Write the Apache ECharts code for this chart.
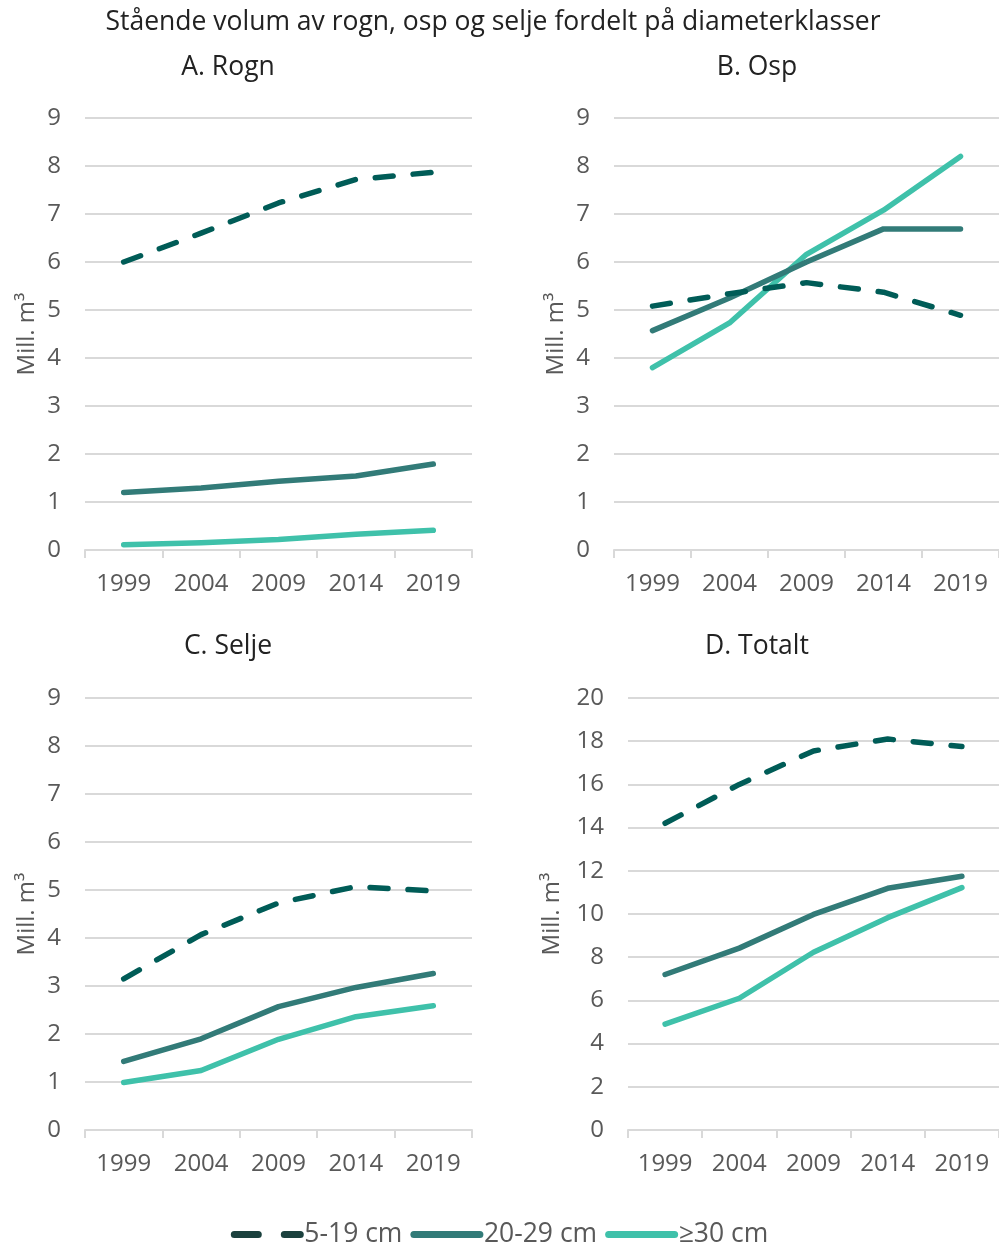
<!DOCTYPE html>
<html>
<head>
<meta charset="utf-8">
<script src="https://cdn.jsdelivr.net/npm/echarts@6/dist/echarts.min.js"></script>
<style>
  html, body { margin: 0; padding: 0; background: #fff; }
  #chart { width: 999px; height: 1250px; }
</style>
</head>
<body>
<div id="chart"></div>
<script>
const years = ['1999', '2004', '2009', '2014', '2019'];
const seriesNames = ['5-19 cm', '20-29 cm', '≥30 cm'];

// Rogn
const rogn519 = [6.0, 6.6, 7.23, 7.72, 7.87];
const rogn2029 = [1.2, 1.29, 1.43, 1.54, 1.79];
const rogn30 = [0.11, 0.15, 0.22, 0.33, 0.41];
// Osp
const osp519 = [5.08, 5.34, 5.57, 5.37, 4.89];
const osp2029 = [4.57, 5.25, 6.0, 6.69, 6.69];
const osp30 = [3.8, 4.73, 6.16, 7.08, 8.2];
// Selje
const selje519 = [3.15, 4.07, 4.73, 5.07, 4.98];
const selje2029 = [1.43, 1.9, 2.57, 2.97, 3.26];
const selje30 = [0.99, 1.24, 1.89, 2.36, 2.59];
// Totalt
const tot519 = [14.2, 16.0, 17.55, 18.1, 17.75];
const tot2029 = [7.2, 8.42, 9.98, 11.19, 11.75];
const tot30 = [4.9, 6.1, 8.23, 9.83, 11.22];

const panels = [
  { title: 'A. Rogn', data: [rogn519, rogn2029, rogn30], max: 9, interval: 1 },
  { title: 'B. Osp', data: [osp519, osp2029, osp30], max: 9, interval: 1 },
  { title: 'C. Selje', data: [selje519, selje2029, selje30], max: 9, interval: 1 },
  { title: 'D. Totalt', data: [tot519, tot2029, tot30], max: 20, interval: 2 }
];

const colors = ['#005c57', '#327b78', '#3fc1aa'];
const font = '"Open Sans", "Noto Sans", sans-serif';
const grey = '#595959';
const lineGrey = '#d9d9d9';

const grids = [
  { left: 85, top: 118, width: 387, height: 432 },
  { left: 614, top: 118, width: 387, height: 432 },
  { left: 85, top: 698, width: 387, height: 432 },
  { left: 628, top: 698, width: 373, height: 432 }
];
const titleX = [223, 752, 223, 752];
const titleY = [49, 49, 628, 628];
const nameGaps = [46, 46, 46, 64];

const myChart = echarts.init(document.getElementById('chart'));

const options = {
  backgroundColor: '#fff',
  textStyle: { fontFamily: font },
  title: [
    {
      text: 'Stående volum av rogn, osp og selje fordelt på diameterklasser',
      left: 488, top: 4, textAlign: 'center',
      textStyle: { fontFamily: font, fontSize: 26.5, fontWeight: 'normal', color: '#222' }
    }
  ].concat(panels.map((p, i) => ({
    text: p.title,
    left: titleX[i], top: titleY[i], textAlign: 'center',
    textStyle: { fontFamily: font, fontSize: 26.5, fontWeight: 'normal', color: '#222' }
  }))),
  legend: {
    bottom: -3,
    left: 'center',
    data: seriesNames.map((n, k) => k === 0
      ? { name: n, lineStyle: { type: [24, 26], color: '#1b413e' } }
      : { name: n }),
    itemWidth: 66,
    itemHeight: 14,
    itemGap: 8,
    itemStyle: { opacity: 0 },
    lineStyle: { width: 7, cap: 'round' },
    textStyle: { fontFamily: font, fontSize: 26.5, color: grey, padding: [0, 0, 0, -1] }
  },
  grid: grids,
  xAxis: panels.map((p, i) => ({
    type: 'category',
    gridIndex: i,
    data: years,
    axisLine: { lineStyle: { color: lineGrey, width: 2 } },
    axisTick: { show: true, length: 8, lineStyle: { color: lineGrey, width: 2 } },
    axisLabel: { color: grey, fontSize: 24, fontFamily: font, margin: 22 }
  })),
  yAxis: panels.map((p, i) => ({
    type: 'value',
    gridIndex: i,
    min: 0,
    max: p.max,
    interval: p.interval,
    name: 'Mill. m³',
    nameLocation: 'middle',
    nameGap: nameGaps[i],
    nameTextStyle: { color: grey, fontSize: 24, fontFamily: font },
    axisLine: { show: false },
    axisTick: { show: false },
    axisLabel: { color: grey, fontSize: 24, fontFamily: font, margin: 24 },
    splitLine: { lineStyle: { color: lineGrey, width: 2 } }
  })),
  series: []
};

panels.forEach((p, i) => {
  p.data.forEach((vals, k) => {
    options.series.push({
      name: seriesNames[k],
      type: 'line',
      xAxisIndex: i,
      yAxisIndex: i,
      data: vals,
      symbol: 'none',
      color: colors[k],
      lineStyle: {
        color: colors[k],
        width: 5.5,
        cap: 'round',
        join: 'round',
        type: k === 0 ? [18, 20] : 'solid'
      },
      z: 3 - k + 2
    });
  });
});

myChart.setOption(options);
</script>
</body>
</html>
